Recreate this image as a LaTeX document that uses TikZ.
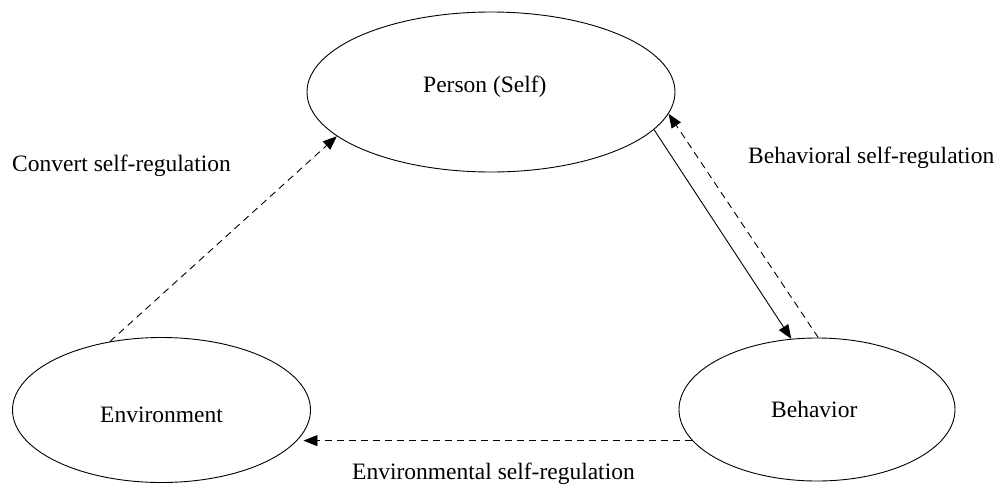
\documentclass[tikz,border=0pt]{standalone}
\usepackage{fontspec}
\setmainfont{Liberation Serif}
\usetikzlibrary{shapes.geometric,arrows.meta}
\begin{document}
\begin{tikzpicture}[x=1pt,y=-1pt,
  ell/.style={draw,ellipse,line width=0.9pt,inner sep=0pt},
  txt/.style={inner sep=0pt,anchor=base west,font=\fontsize{23.5}{28}\selectfont},
  conn/.style={line width=0.9pt,-{Triangle[length=14pt,width=11pt]}},
  dconn/.style={conn,dash pattern=on 7pt off 5pt}]
\useasboundingbox (0,0) rectangle (1002,488);
% ellipses
\node[ell,minimum width=368pt,minimum height=160pt] (person) at (491,92) {};
\node[ell,minimum width=298pt,minimum height=145pt] (env) at (161.5,410) {};
\node[ell,minimum width=276pt,minimum height=143pt] (beh) at (817,409.5) {};
% ellipse texts
\node[txt] (tperson) at (423,92) {Person (Self)};
\node[txt] (tenv) at (100,422) {Environment};
\node[txt] (tbeh) at (771,417) {Behavior};
% connector labels
\node[txt] (lconv) at (12,171.7) {Convert self-regulation};
\node[txt] (lbeh) at (748,163) {Behavioral self-regulation};
\node[txt] (lenv) at (352,479) {Environmental self-regulation};
% connectors
\draw[dconn] (env.127) -- (person.196);
\draw[conn] (person.-13) -- (beh.110);
\draw[dconn] (beh.89) -- (person.-7.5);
\draw[dconn,shorten >=-7.5pt] (beh.194.3) -- (beh.194.3 -| env.east);
\end{tikzpicture}
\end{document}
